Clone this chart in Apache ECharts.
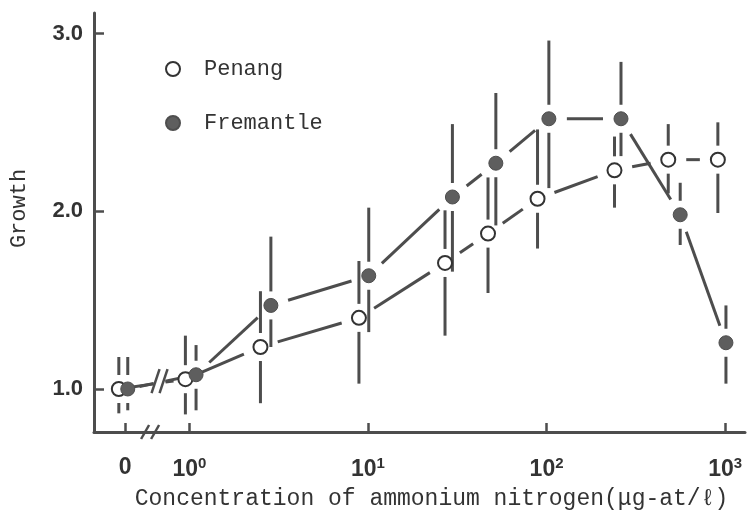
<!DOCTYPE html>
<html>
<head>
<meta charset="utf-8">
<script src="https://cdn.jsdelivr.net/npm/echarts@6/dist/echarts.min.js"></script>
<style>html,body{margin:0;padding:0;background:#fff}#c{width:750px;height:515px}</style>
</head>
<body>
<div id="c"></div>
<script>
// ---- data (concentration in µg-at/l; 0 = control) ----
const penangConc = [0, 0.95, 2.5, 8.9, 27, 47, 89, 240, 480, 910];
const penangGrowth = [1.0, 1.055, 1.236, 1.40, 1.709, 1.874, 2.07, 2.23, 2.29, 2.29];
const penangLow = [0.863, 0.857, 0.92, 1.03, 1.30, 1.54, 1.79, 2.02, 2.10, 1.99];
const penangHigh = [1.18, 1.30, 1.55, 1.72, 2.005, 2.19, 2.46, 2.42, 2.49, 2.50];

const fremConc = [0, 1.09, 2.86, 10.1, 29.7, 52, 103, 261, 560, 1010];
const fremGrowth = [1.0, 1.08, 1.47, 1.637, 2.08, 2.27, 2.52, 2.52, 1.98, 1.26];
const fremLow = [0.88, 0.88, 1.236, 1.32, 1.66, 1.92, 2.13, 2.31, 1.81, 1.03];
const fremHigh = [1.18, 1.247, 1.857, 2.02, 2.49, 2.665, 2.96, 2.84, 2.16, 1.47];

const xTickValues = ['0', '10^0', '10^1', '10^2', '10^3'];
const yTickValues = [1.0, 2.0, 3.0];

// ---- axis layout (log10 scale with a broken zero position) ----
const zeroPos = -0.36;
const axisBreakPos = -0.22;
const lineBreakPos = -0.167;
const xMin = -0.534, xMax = 3.111, yMin = 0.758, yMax = 3.115;
const xTickPos = [zeroPos, 0, 1, 2, 3];

function toX(c, off) { return c === 0 ? zeroPos + off : Math.log10(c); }

const INK = '#4d4d4d';
const TEXT = '#333';

function buildSeries(name, conc, growth, low, high, off, markerStyle, lineGap, errGap) {
  const xs = conc.map(c => toX(c, off));
  const pts = xs.map((x, i) => [x, growth[i]]);
  const segs = [];
  for (let i = 0; i < pts.length - 1; i++) segs.push([pts[i][0], pts[i][1], pts[i + 1][0], pts[i + 1][1], i]);
  const errs = xs.map((x, i) => [x, growth[i], low[i], high[i]]);
  const lineStyle = { stroke: INK, lineWidth: 3, lineCap: 'butt', fill: null };
  return [
    {
      type: 'custom', name: name + '-line', z: 2, silent: true,
      coordinateSystem: 'cartesian2d',
      dimensions: ['x0', 'y0', 'x1', 'y1', 'idx'],
      encode: { x: [0, 2], y: [1, 3] },
      data: segs,
      renderItem: function (params, api) {
        const a = api.coord([api.value(0), api.value(1)]);
        const b = api.coord([api.value(2), api.value(3)]);
        const dx = b[0] - a[0], dy = b[1] - a[1];
        const len = Math.sqrt(dx * dx + dy * dy);
        const ux = dx / len, uy = dy / len;
        const children = [];
        if (api.value(4) === 0) {
          const bx = api.coord([lineBreakPos, 1])[0];
          const t = (bx - a[0]) / dx;
          const m = [a[0] + dx * t, a[1] + dy * t];
          children.push({ type: 'polyline', shape: { points: [[a[0] + ux * 12, a[1] + uy * 12], [m[0] - ux * 6, m[1] - uy * 6]] }, style: lineStyle });
          children.push({ type: 'polyline', shape: { points: [[m[0] + ux * 6, m[1] + uy * 6], [b[0] - ux * 12, b[1] - uy * 12]] }, style: lineStyle });
        } else {
          children.push({ type: 'polyline', shape: { points: [[a[0] + ux * lineGap, a[1] + uy * lineGap], [b[0] - ux * lineGap, b[1] - uy * lineGap]] }, style: lineStyle });
        }
        return { type: 'group', children: children };
      }
    },
    {
      type: 'custom', name: name + '-err', z: 2, silent: true,
      coordinateSystem: 'cartesian2d',
      dimensions: ['x', 'y', 'lo', 'hi'],
      encode: { x: 0, y: [2, 3] },
      data: errs,
      renderItem: function (params, api) {
        const c = api.coord([api.value(0), api.value(1)]);
        const lo = api.coord([api.value(0), api.value(2)]);
        const hi = api.coord([api.value(0), api.value(3)]);
        const ch = [];
        if (c[1] - errGap > hi[1]) ch.push({ type: 'polyline', shape: { points: [[c[0], hi[1]], [c[0], c[1] - errGap]] }, style: lineStyle });
        if (lo[1] > c[1] + errGap) ch.push({ type: 'polyline', shape: { points: [[c[0], c[1] + errGap], [c[0], lo[1]]] }, style: lineStyle });
        return { type: 'group', children: ch };
      }
    },
    {
      type: 'scatter', name: name, z: 4,
      symbol: 'circle', symbolSize: 14,
      itemStyle: markerStyle,
      data: pts
    }
  ];
}

const series = []
  .concat(buildSeries('Penang', penangConc, penangGrowth, penangLow, penangHigh, -0.035,
    { color: '#ffffff', borderColor: '#333', borderWidth: 2, opacity: 1 }, 18, 14))
  .concat(buildSeries('Fremantle', fremConc, fremGrowth, fremLow, fremHigh, 0.015,
    { color: '#5e5e5e', borderColor: '#4e4e4e', borderWidth: 1, opacity: 1 }, 18, 14));

// break marks on the axis and on the lines between 0 and 10^0
series.push({
  type: 'custom', name: 'breaks', z: 3, silent: true,
  coordinateSystem: 'cartesian2d',
  encode: { x: 0, y: 1 },
  data: [[axisBreakPos, yMin, 7, 5], [lineBreakPos, 1.044, 12, 4]],
  renderItem: function (params, api) {
    const p = api.coord([api.value(0), api.value(1)]);
    const h = api.value(2), sp = api.value(3);
    const style = { stroke: INK, lineWidth: 2.5, fill: null };
    return { type: 'group', children: [
      { type: 'polyline', shape: { points: [[p[0] - sp - 4, p[1] + h], [p[0] - sp + 4, p[1] - h]] }, style: style },
      { type: 'polyline', shape: { points: [[p[0] + sp - 4, p[1] + h], [p[0] + sp + 4, p[1] - h]] }, style: style }
    ]};
  }
});

const chart = echarts.init(document.getElementById('c'), null, { renderer: 'canvas' });
chart.setOption({
  backgroundColor: '#ffffff',
  animation: false,
  grid: { left: 90, right: 5, top: 13, bottom: 73, containLabel: false },
  legend: {
    data: ['Penang', 'Fremantle'],
    orient: 'vertical', left: 160, top: 53,
    itemWidth: 52, itemHeight: 14, itemGap: 32,
    selectedMode: false,
    textStyle: { fontFamily: 'Liberation Mono', fontSize: 22, color: TEXT }
  },
  xAxis: {
    type: 'value', min: xMin, max: xMax,
    name: 'Concentration of ammonium nitrogen(μg-at/ℓ)',
    nameLocation: 'middle', nameGap: 55,
    nameTextStyle: { fontFamily: 'Liberation Mono', fontSize: 23, color: TEXT, padding: [0, 0, 0, 24] },
    axisLine: { show: true, onZero: false, lineStyle: { color: INK, width: 3 } },
    axisTick: { show: true, inside: true, length: 9, customValues: xTickPos, lineStyle: { color: INK, width: 2.5 } },
    splitLine: { show: false },
    axisLabel: {
      customValues: xTickPos, margin: 24,
      formatter: function (v) {
        const i = xTickPos.findIndex(t => Math.abs(t - v) < 1e-6);
        const lab = xTickValues[i] || '';
        if (lab.indexOf('^') < 0) return '{b|' + lab + '}';
        const parts = lab.split('^');
        return '{b|' + parts[0] + '}{s|' + parts[1] + '}';
      },
      rich: {
        b: { fontFamily: 'Liberation Sans', fontWeight: 'bold', fontSize: 23, color: TEXT },
        s: { fontFamily: 'Liberation Sans', fontWeight: 'bold', fontSize: 15, color: TEXT, padding: [0, 0, 12, 0] }
      }
    }
  },
  yAxis: {
    type: 'value', min: yMin, max: yMax,
    name: 'Growth', nameLocation: 'middle', nameGap: 64, nameRotate: 90,
    nameTextStyle: { fontFamily: 'Liberation Mono', fontSize: 22, color: TEXT, padding: [0, 0, 0, 28] },
    axisLine: { show: true, onZero: false, lineStyle: { color: INK, width: 3 } },
    axisTick: { show: true, inside: true, length: 10, customValues: yTickValues, lineStyle: { color: INK, width: 2.5 } },
    splitLine: { show: false },
    axisLabel: {
      customValues: yTickValues, margin: 11,
      formatter: function (v) { return v.toFixed(1); },
      fontFamily: 'Liberation Sans', fontWeight: 'bold', fontSize: 22, color: TEXT
    }
  },
  series: series
});
</script>
</body>
</html>
